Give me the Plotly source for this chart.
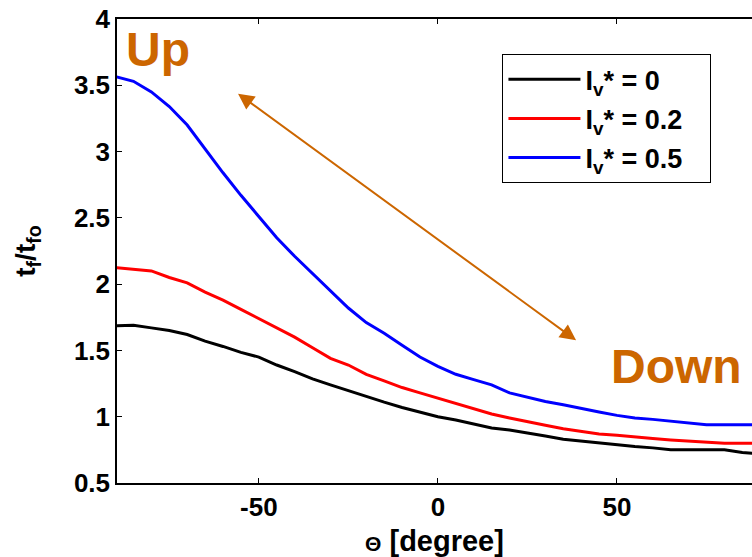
import plotly.graph_objects as go

theta = [-90, -85, -80, -75, -70, -65, -60, -55, -50, -45, -40, -35, -30, -25, -20, -15, -10, -5,
         0, 5, 10, 15, 20, 25, 30, 35, 40, 45, 50, 55, 60, 65, 70, 75, 80, 85, 90]

iv_0 = [1.686, 1.69, 1.67, 1.65, 1.62, 1.57, 1.53, 1.485, 1.45, 1.39, 1.34, 1.285, 1.24, 1.195,
        1.15, 1.11, 1.07, 1.035, 1.00, 0.975, 0.945, 0.915, 0.90, 0.88, 0.855, 0.83, 0.815, 0.80,
        0.785, 0.775, 0.765, 0.75, 0.75, 0.75, 0.75, 0.73, 0.72]

iv_02 = [2.125, 2.11, 2.10, 2.05, 2.01, 1.94, 1.88, 1.81, 1.74, 1.67, 1.60, 1.52, 1.44, 1.39,
         1.32, 1.27, 1.22, 1.18, 1.14, 1.10, 1.06, 1.02, 0.99, 0.96, 0.935, 0.91, 0.89, 0.87,
         0.86, 0.845, 0.835, 0.825, 0.815, 0.805, 0.80, 0.80, 0.80]

iv_05 = [3.565, 3.53, 3.45, 3.34, 3.20, 3.02, 2.84, 2.67, 2.51, 2.35, 2.21, 2.08, 1.95, 1.82,
         1.71, 1.63, 1.54, 1.45, 1.38, 1.32, 1.28, 1.24, 1.18, 1.145, 1.115, 1.09, 1.06, 1.035,
         1.01, 0.99, 0.98, 0.965, 0.95, 0.94, 0.94, 0.94, 0.94]

series_names = ["I<sub>v</sub>* = 0", "I<sub>v</sub>* = 0.2", "I<sub>v</sub>* = 0.5"]
series_vals = [iv_0, iv_02, iv_05]
series_colors = ["#000000", "#FF0000", "#0000FF"]

x_ticks = [-50, 0, 50]
x_ticktext = ["-50", "0", "50"]
y_ticks = [0.5, 1, 1.5, 2, 2.5, 3, 3.5, 4]
y_ticktext = ["0.5", "1", "1.5", "2", "2.5", "3", "3.5", "4"]

FONT = "Liberation Sans, Arial, sans-serif"
ORANGE = "#CC6600"

fig = go.Figure()
for i, (name, vals, col) in enumerate(zip(series_names, series_vals, series_colors)):
    fig.add_trace(go.Scatter(x=theta, y=vals, mode="lines", name=name + "&nbsp;&nbsp;&nbsp;",
                             legendgroup=f"g{i}",
                             line=dict(color=col, width=3)))

fig.add_annotation(x=-55.8, y=3.437, ax=39.0, ay=1.568, xref="x", yref="y",
                   axref="x", ayref="y", text="", showarrow=True,
                   arrowhead=2, startarrowhead=2, arrowside="end+start",
                   arrowsize=1.6, startarrowsize=1.6,
                   arrowwidth=2, arrowcolor=ORANGE)
fig.add_annotation(x=-78.2, y=3.77, xref="x", yref="y", text="Up", showarrow=False,
                   font=dict(family=FONT, size=48, color=ORANGE, weight="bold"))
fig.add_annotation(x=66.5, y=1.38, xref="x", yref="y", text="Down", showarrow=False,
                   font=dict(family=FONT, size=48, color=ORANGE, weight="bold"))

fig.update_layout(
    width=752, height=557,
    margin=dict(l=117, r=0, t=19, b=74),
    paper_bgcolor="white", plot_bgcolor="white",
    font=dict(family=FONT, size=26, color="black", weight="bold"),
    showlegend=True,
    legend=dict(x=0.607, y=0.924, xanchor="left", yanchor="top",
                bgcolor="white", bordercolor="black", borderwidth=1,
                traceorder="grouped", tracegroupgap=1, itemwidth=72,
                font=dict(family=FONT, size=27, color="black", weight="bold")),
    xaxis=dict(range=[-89.6, 87.7], tickvals=x_ticks, ticktext=x_ticktext,
               showgrid=False, zeroline=False,
               showline=True, linecolor="black", linewidth=1.5, mirror="ticks",
               ticks="inside", ticklen=5, tickcolor="black",
               tickfont=dict(family=FONT, size=26, color="black", weight="bold"),
               title=dict(text="<span style='font-size:21px'>Θ</span> [degree]", standoff=10,
                          font=dict(family=FONT, size=29, color="black", weight="bold"))),
    yaxis=dict(range=[0.5, 4], tickvals=y_ticks, ticktext=y_ticktext,
               showgrid=False, zeroline=False,
               showline=True, linecolor="black", linewidth=1.5, mirror=False,
               ticks="inside", ticklen=5, tickcolor="black",
               tickfont=dict(family=FONT, size=26, color="black", weight="bold"),
               title=dict(text="t<sub>f</sub>/t<sub>fo</sub>", standoff=30,
                          font=dict(family=FONT, size=28, color="black", weight="bold"))),
)

fig.write_html("out.html")
